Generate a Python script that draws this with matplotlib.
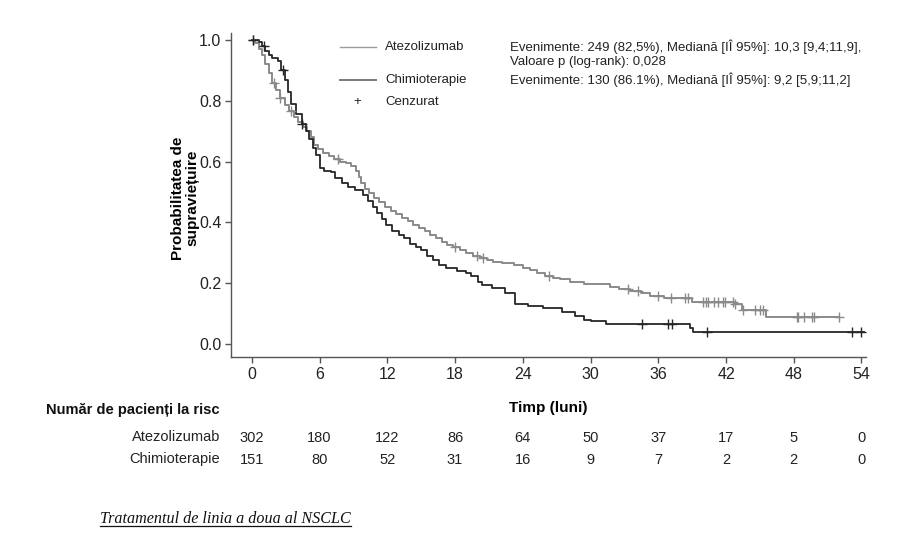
import numpy as np
import matplotlib
matplotlib.use("Agg")
import matplotlib.pyplot as plt
from matplotlib.transforms import blended_transform_factory

plt.rcParams['font.family'] = ['Liberation Sans', 'DejaVu Sans']

# ---------------- data ----------------
atezo_t = [0, 0.3, 0.6, 0.9, 1.2, 1.5, 1.8, 2.1, 2.5, 2.9, 3.3, 3.7, 4.1, 4.5, 4.9, 5.2,
           5.5, 5.9, 6.3, 6.8, 7.3, 7.8, 8.3, 8.8, 9.2, 9.5, 9.7, 10.0, 10.4, 10.8, 11.3,
           11.8, 12.3, 12.8, 13.3, 13.8, 14.3, 14.8, 15.3, 15.8, 16.3, 16.8, 17.3, 17.8,
           18.4, 19.0, 19.6, 20.2, 20.8, 21.4, 22.2, 23.2, 24.0, 24.6, 25.3, 26.0, 26.7,
           27.3, 28.2, 29.4, 31.7, 32.5, 33.5, 34.5, 35.3, 36.5, 39.0, 42.7, 43.4, 45.5, 52.0]
atezo_s = [1.0, 0.99, 0.97, 0.95, 0.92, 0.89, 0.86, 0.835, 0.81, 0.785, 0.765, 0.745, 0.73,
           0.715, 0.70, 0.68, 0.655, 0.64, 0.628, 0.618, 0.607, 0.598, 0.594, 0.585, 0.57,
           0.55, 0.53, 0.51, 0.495, 0.48, 0.467, 0.45, 0.437, 0.427, 0.415, 0.405, 0.392,
           0.38, 0.37, 0.357, 0.347, 0.337, 0.327, 0.318, 0.31, 0.30, 0.29, 0.283, 0.277,
           0.271, 0.265, 0.26, 0.25, 0.242, 0.235, 0.225, 0.218, 0.212, 0.203, 0.198, 0.187,
           0.18, 0.174, 0.166, 0.159, 0.151, 0.138, 0.131, 0.11, 0.088, 0.088]
atezo_cens = [0.1, 2.0, 2.5, 3.5, 7.6, 18.0, 19.9, 20.5, 26.3, 33.3, 34.2, 36.0, 37.1, 38.4,
              38.6, 40.0, 40.2, 40.4, 40.9, 41.3, 41.7, 41.9, 42.6, 42.8, 43.5, 44.6, 45.0,
              45.3, 48.3, 48.4, 48.9, 49.6, 49.8, 52.0]

chemo_t = [0, 0.6, 0.9, 1.2, 1.5, 1.8, 2.3, 2.6, 2.9, 3.2, 3.5, 3.9, 4.4, 4.8, 5.1, 5.4,
           5.7, 6.0, 6.4, 7.0, 7.4, 8.0, 8.5, 9.1, 9.8, 10.3, 10.7, 11.1, 11.5, 11.9, 12.4,
           13.0, 13.5, 14.0, 14.5, 15.0, 15.5, 16.0, 16.6, 17.2, 18.2, 19.0, 19.4, 20.0,
           20.4, 21.3, 22.4, 23.3, 24.5, 25.8, 27.5, 28.6, 29.4, 30.0, 31.4, 38.8, 39.1, 54.2]
chemo_s = [1.0, 0.993, 0.98, 0.965, 0.95, 0.94, 0.93, 0.90, 0.87, 0.83, 0.79, 0.755, 0.725,
           0.70, 0.675, 0.645, 0.62, 0.58, 0.57, 0.565, 0.545, 0.53, 0.515, 0.505, 0.49,
           0.47, 0.45, 0.432, 0.41, 0.39, 0.37, 0.36, 0.35, 0.33, 0.32, 0.31, 0.29, 0.275,
           0.26, 0.25, 0.24, 0.232, 0.222, 0.205, 0.195, 0.184, 0.167, 0.13, 0.124, 0.118,
           0.104, 0.093, 0.079, 0.074, 0.065, 0.052, 0.039, 0.039]
chemo_cens = [0.1, 1.1, 2.8, 4.4, 34.6, 36.9, 37.2, 40.3, 53.2, 54.0]

x_ticks = [0, 6, 12, 18, 24, 30, 36, 42, 48, 54]
y_ticks = [0.0, 0.2, 0.4, 0.6, 0.8, 1.0]
risk_atezo = [302, 180, 122, 86, 64, 50, 37, 17, 5, 0]
risk_chemo = [151, 80, 52, 31, 16, 9, 7, 2, 2, 0]

arm_names = ["Atezolizumab", "Chimioterapie"]
stats_text = ["Evenimente: 249 (82,5%), Mediană [IÎ 95%]: 10,3 [9,4;11,9],",
              "Valoare p (log-rank): 0,028",
              "Evenimente: 130 (86.1%), Mediană [IÎ 95%]: 9,2 [5,9;11,2]"]

# ---------------- figure ----------------
W, H = 920, 544
fig = plt.figure(figsize=(W / 100, H / 100), dpi=100)

def fx(x):
    return x / W

def fy(y):
    return 1 - y / H

ax_l, ax_r, ax_t, ax_b = 231, 866, 33, 357
ax = fig.add_axes([fx(ax_l), fy(ax_b), (ax_r - ax_l) / W, (ax_b - ax_t) / H])

grey = '#8a8a8a'
dark = '#262626'

ax.plot(atezo_t, atezo_s, drawstyle='steps-post', color=grey, lw=1.4)
ax.plot(chemo_t, chemo_s, drawstyle='steps-post', color=dark, lw=1.3)

def surv_at(times, surv, c):
    idx = np.searchsorted(np.array(times), np.array(c), side='right') - 1
    return np.array(surv)[idx]

ax.plot(atezo_cens, surv_at(atezo_t, atezo_s, atezo_cens), ls='none', marker='+',
        color=grey, ms=7, mew=1.0)
ax.plot(chemo_cens, surv_at(chemo_t, chemo_s, chemo_cens), ls='none', marker='+',
        color=dark, ms=7, mew=1.0)

ax.set_xlim(-1.85, 54.4)
ax.set_ylim(-0.043, 1.023)
ax.set_xticks(x_ticks)
ax.set_yticks(y_ticks)
ax.set_xticklabels([str(v) for v in x_ticks])
ax.set_yticklabels([f"{v:.1f}" for v in y_ticks])
for s in ['top', 'right']:
    ax.spines[s].set_visible(False)
for s in ['left', 'bottom']:
    ax.spines[s].set_color('#555555')
    ax.spines[s].set_linewidth(1.0)
ax.tick_params(axis='both', direction='out', length=4, width=1, color='#555555',
               labelsize=11.5, labelcolor='#222222', pad=3)

ax.set_xlabel("Timp (luni)", fontsize=11, fontweight='bold', labelpad=14)
fig.text(fx(185), fy(198), "Probabilitatea de\nsupraviețuire", rotation=90,
         ha='center', va='center', fontsize=11, fontweight='bold', linespacing=1.05)

# legend
leg_color_line = ['#9a9a9a', '#7a7a7a']
for i, (yy, name) in enumerate(zip([47, 80], arm_names)):
    fig.add_artist(plt.Line2D([fx(340), fx(376)], [fy(yy), fy(yy)], color=leg_color_line[i],
                              lw=1.0 + 0.4 * i, transform=fig.transFigure))
    fig.text(fx(385), fy(yy), name, ha='left', va='center', fontsize=9.5, color='#222222')
fig.text(fx(357), fy(102), "+", ha='center', va='center', fontsize=9.5, color='#222222')
fig.text(fx(385), fy(102), "Cenzurat", ha='left', va='center', fontsize=9.5, color='#222222')
for yy, t in zip([47, 62, 80], stats_text):
    fig.text(fx(510), fy(yy), t, ha='left', va='center', fontsize=9.5, color='#222222')

# at-risk table
fig.text(fx(220), fy(410), "Număr de pacienți la risc", ha='right', va='center',
         fontsize=10.5, fontweight='bold', color='#111111')
trans = blended_transform_factory(ax.transData, fig.transFigure)
for yy, name, vals in zip([437, 459], arm_names, [risk_atezo, risk_chemo]):
    fig.text(fx(220), fy(yy), name, ha='right', va='center', fontsize=10.5, color='#222222')
    for xv, n in zip(x_ticks, vals):
        ax.text(xv, fy(yy + 1), str(n), transform=trans, ha='center', va='center',
                fontsize=10.5, color='#222222')

# caption
cap = fig.text(fx(100), fy(519), "Tratamentul de linia a doua al NSCLC", ha='left',
               va='center', fontsize=11.6, style='italic', family='Liberation Serif',
               color='#111111')
fig.canvas.draw()
bb = cap.get_window_extent(renderer=fig.canvas.get_renderer())
inv = fig.transFigure.inverted()
(x0, y0), (x1, y1) = inv.transform([[bb.x0, bb.y0], [bb.x1, bb.y0]])
fig.add_artist(plt.Line2D([x0, x1], [y0 + 0.001, y0 + 0.001], color='#111111', lw=0.9,
                          transform=fig.transFigure))

fig.savefig("out.png", dpi=100)
